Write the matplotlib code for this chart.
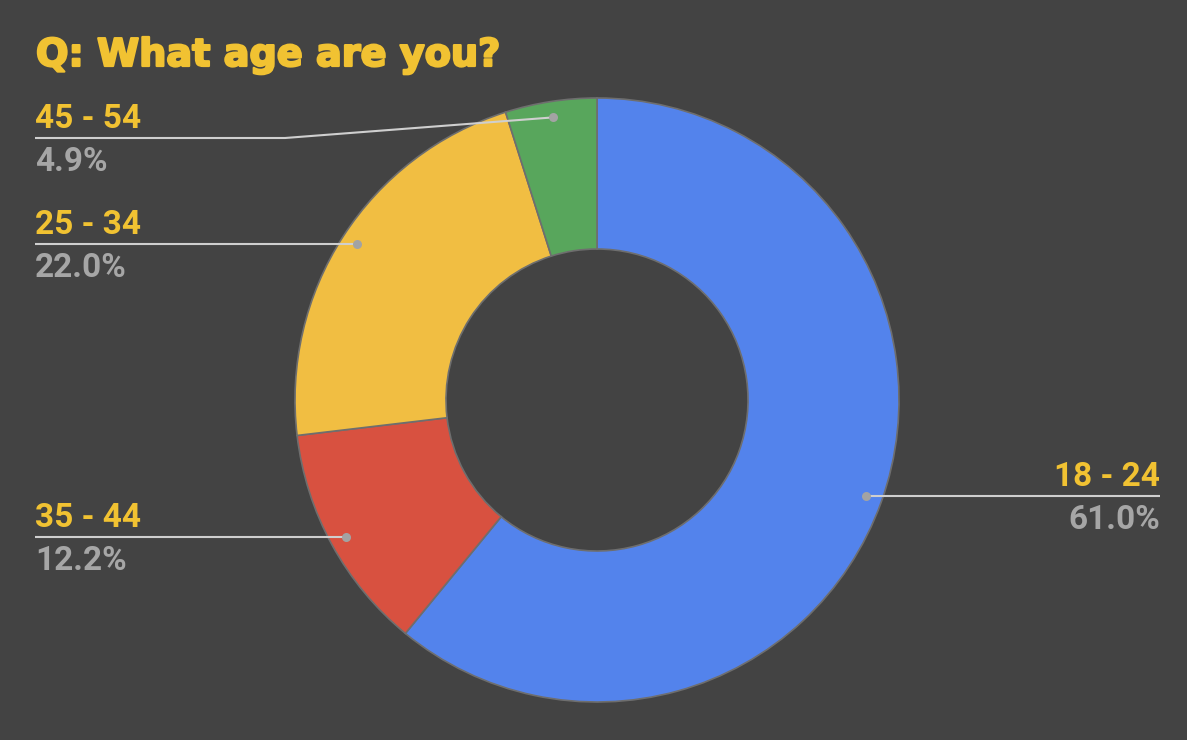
import numpy as np
import matplotlib
matplotlib.use('Agg')
from matplotlib import pyplot as plt
from matplotlib import patheffects as pe

# data, in the order the slices go round (clockwise from the top)
labels = ['18 - 24', '35 - 44', '25 - 34', '45 - 54']
shares = [61.0, 12.2, 22.0, 4.9]
colors = ['#5383ec', '#d85140', '#f1be42', '#58a65c']

title = 'Q: What age are you?'

# layout, in screen pixels (y counted from the top)
W, H = 1187, 740
cx, cy = 597, 400
r_out = 302
hole = 0.5
anchor_r = 0.947           # where the leader dots sit, fraction of the radius
label_line_y = [496, 537, 244, 138]
label_side = ['right', 'left', 'left', 'left']
left_x, right_x = 35, 1160
elbow_x = 285              # for leaders that cannot stay flat

bg = '#434343'
gold = '#f1c232'
grey_txt = '#a6a6a6'
line_col = '#cfcfcf'
dot_col = '#a3a3a3'

fig = plt.figure(figsize=(W / 100, H / 100), dpi=100, facecolor=bg)
ax = fig.add_axes([0, 0, 1, 1])
ax.set_facecolor(bg)

ax.pie(shares, colors=colors, startangle=90, counterclock=False,
       radius=r_out, center=(cx, H - cy),
       wedgeprops=dict(width=r_out * hole, edgecolor='#6e6e6e', linewidth=1.2))
ax.set_xlim(0, W)
ax.set_ylim(0, H)
ax.set_aspect('equal')
ax.axis('off')

lab_font = ['Roboto', 'DejaVu Sans']

total = sum(shares)
start = 90.0
ra = r_out * anchor_r
for lab, val, ly, side in zip(labels, shares, label_line_y, label_side):
    sweep = val / total * 360
    a0, a1 = start - sweep, start
    mid = np.deg2rad((a0 + a1) / 2)
    start = a0

    y_line = H - ly
    # try to keep the leader flat: find the point of the arc at the label height
    s = (y_line - (H - cy)) / ra
    ax_, ay_ = cx + ra * np.cos(mid), (H - cy) + ra * np.sin(mid)
    flat = False
    if abs(s) <= 1:
        th = np.rad2deg(np.arcsin(s))
        if side == 'left':
            th = 180 - th
        for k in (-720, -360, 0, 360):
            if a0 <= th + k <= a1:
                ax_ = cx + ra * np.cos(np.deg2rad(th))
                ay_ = y_line
                flat = True
                break

    if side == 'right':
        xs, ys = [ax_, right_x], [ay_, y_line]
        tx, ha = right_x, 'right'
    else:
        if flat:
            xs, ys = [left_x, ax_], [y_line, ay_]
        else:
            xs, ys = [left_x, elbow_x, ax_], [y_line, y_line, ay_]
        tx, ha = left_x, 'left'
    ax.plot(xs, ys, color=line_col, lw=1.5, solid_capstyle='butt', zorder=5)
    ax.plot([ax_], [ay_], 'o', ms=6.5, color=dot_col, mec='none', zorder=6)

    ax.text(tx, y_line + 10, lab, ha=ha, va='baseline', color=gold,
            fontsize=24, fontweight='bold', family=lab_font)
    ax.text(tx, y_line - 33, '%.1f%%' % val, ha=ha, va='baseline', color=grey_txt,
            fontsize=24, fontweight='bold', family=lab_font)

ax.text(36, H - 66, title, ha='left', va='baseline', color=gold,
        fontsize=27.5, fontweight='heavy', family=['DejaVu Sans'],
        path_effects=[pe.withStroke(linewidth=1.6, foreground=gold)])

fig.savefig('out.png', dpi=100, facecolor=bg)
